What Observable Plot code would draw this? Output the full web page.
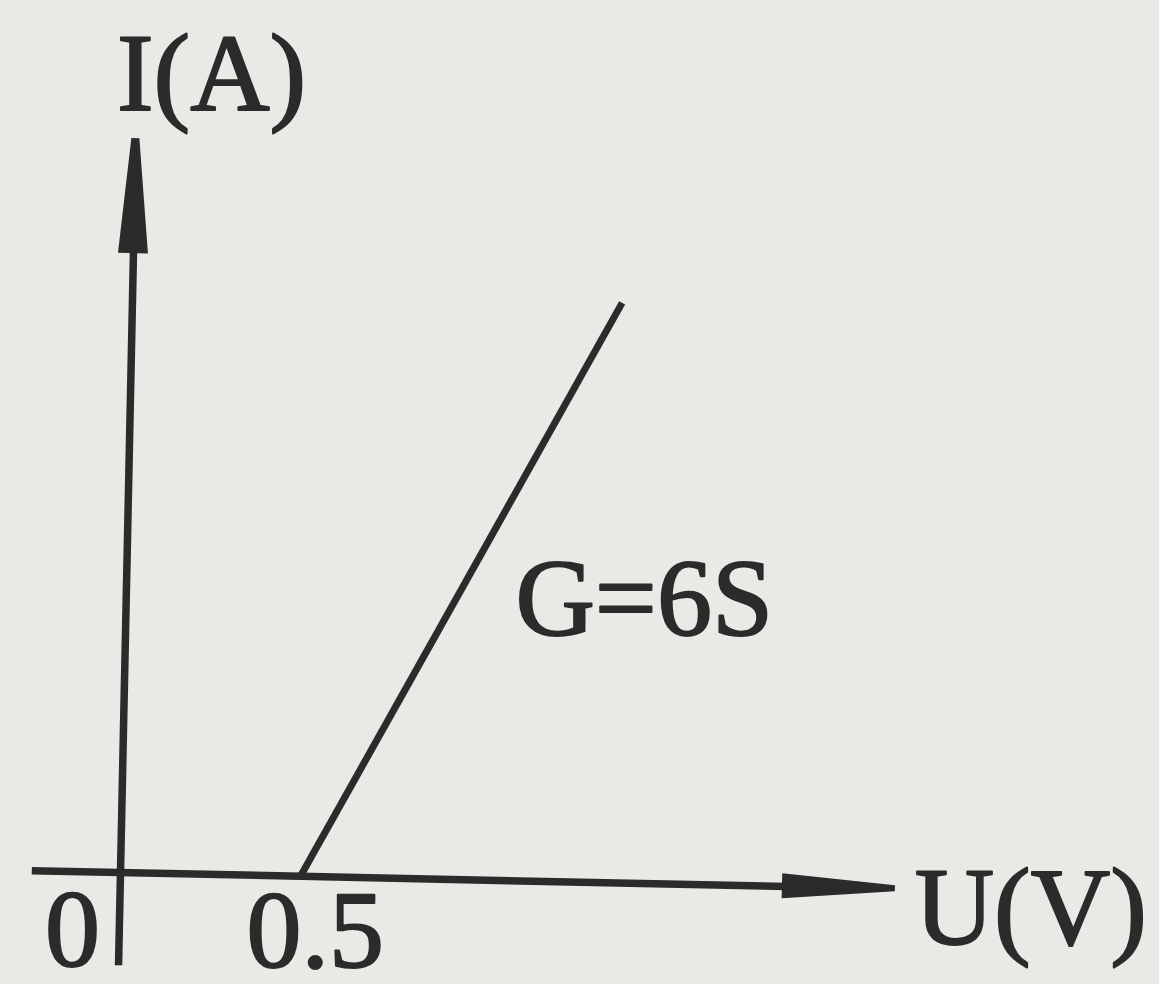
<!DOCTYPE html>
<html>
<head>
<meta charset="utf-8">
<script src="https://cdn.jsdelivr.net/npm/d3@7"></script>
<script src="https://cdn.jsdelivr.net/npm/@observablehq/plot@0.6"></script>
<style>
  html, body { margin: 0; padding: 0; background: #e9e9e5; }
  #chart { width: 1159px; height: 984px; overflow: hidden; }
</style>
</head>
<body>
<div id="chart"></div>
<script>
// I–U characteristic of an element that starts conducting at U0 = 0.5 V
const thresholdU = 0.5;          // V
const conductance = 6;           // S
const lineU = [0.5, 1.36];       // V, ends of the drawn segment
const lineI = lineU.map(u => conductance * (u - thresholdU)); // A

// axis extents (data units) and tick labels
const uAxis = [-0.245, 2.153];   // V, from left end to arrow tip
const iAxis = [-0.83, 6.53];     // A, from bottom end to arrow tip
const tickValues = [0, 0.5];
const tickLabels = ["0", "0.5"];
const axisLabels = ["U(V)", "I(A)"];
const curveLabel = "G=6S";

// layout
const W = 1159, H = 984;
const originX = 120, originY = 872;   // px position of (0, 0)
const pxPerV = 360, pxPerA = 112.4;
const ink = "#2b2b2b";
const tilt = 1.2;                     // degrees, slight skew of the drawing

// arrowhead sizes in pixels, converted to data units
const uHeadLen = 113 / pxPerV, uHeadHalf = 12.5 / pxPerA, uTipHalf = 3 / pxPerA;
const iHeadLen = 115 / pxPerA, iHeadHalf = 15 / pxPerV, iTipHalf = 4 / pxPerV;

const lineData = lineU.map((u, k) => ({u, i: lineI[k]}));
const uHead = [
  {u: uAxis[1] - uHeadLen, lo: -uHeadHalf, hi: uHeadHalf},
  {u: uAxis[1], lo: -uTipHalf, hi: uTipHalf}
];
const iHead = [
  {i: iAxis[1] - iHeadLen, lo: -iHeadHalf, hi: iHeadHalf},
  {i: iAxis[1], lo: -iTipHalf, hi: iTipHalf}
];

const ticks = tickValues.map((v, k) => ({v, label: tickLabels[k]}));

const textStyle = {fill: ink, stroke: ink, strokeWidth: 2, fontSize: 110, lineAnchor: "bottom"};

const chart = Plot.plot({
  width: W,
  height: H,
  margin: 0,
  style: {background: "#e9e9e5", fontFamily: "'Liberation Serif', 'DejaVu Serif', serif"},
  x: {domain: [-originX / pxPerV, (W - originX) / pxPerV], axis: null},
  y: {domain: [-(H - originY) / pxPerA, originY / pxPerA], axis: null},
  marks: [
    // axes
    Plot.ruleY([0], {x1: uAxis[0], x2: uAxis[1] - uHeadLen * 0.5, stroke: ink, strokeWidth: 7.5}),
    Plot.ruleX([0], {y1: iAxis[0], y2: iAxis[1] - iHeadLen * 0.5, stroke: ink, strokeWidth: 7.5}),
    Plot.areaY(uHead, {x: "u", y1: "lo", y2: "hi", fill: ink}),
    Plot.areaX(iHead, {y: "i", x1: "lo", x2: "hi", fill: ink}),
    // characteristic
    Plot.line(lineData, {x: "u", y: "i", stroke: ink, strokeWidth: 7, strokeLinecap: "butt"}),
    // tick labels under the U axis
    Plot.text(ticks.slice(0, 1), {x: d => d.v - 0.133, y: -0.83, text: "label", textAnchor: "middle", ...textStyle}),
    Plot.text(ticks.slice(1), {x: d => d.v - 0.15, y: -0.845, text: "label", textAnchor: "start", ...textStyle, letterSpacing: "-1px"}),
    // axis titles
    Plot.text([axisLabels[0]], {x: 2.206, y: -0.632, text: d => d, textAnchor: "start", ...textStyle, letterSpacing: "-3px"}),
    Plot.text([axisLabels[1]], {x: 0.253, y: 6.78, text: d => d, textAnchor: "middle", ...textStyle, letterSpacing: "-2px"}),
    // conductance annotation
    Plot.text([curveLabel], {x: 1.097, y: 2.11, text: d => d, textAnchor: "start", ...textStyle, letterSpacing: "-4px"})
  ]
});

// the linework is drawn with a small clockwise skew, text stays level
const ox = chart.scale("x").apply(0), oy = chart.scale("y").apply(0);
chart.querySelectorAll('g[aria-label="rule"], g[aria-label="area"], g[aria-label="line"]').forEach(g => {
  const old = g.getAttribute("transform") || "";
  g.setAttribute("transform", `rotate(${tilt} ${ox} ${oy}) ${old}`);
});

document.getElementById("chart").append(chart);
</script>
</body>
</html>
